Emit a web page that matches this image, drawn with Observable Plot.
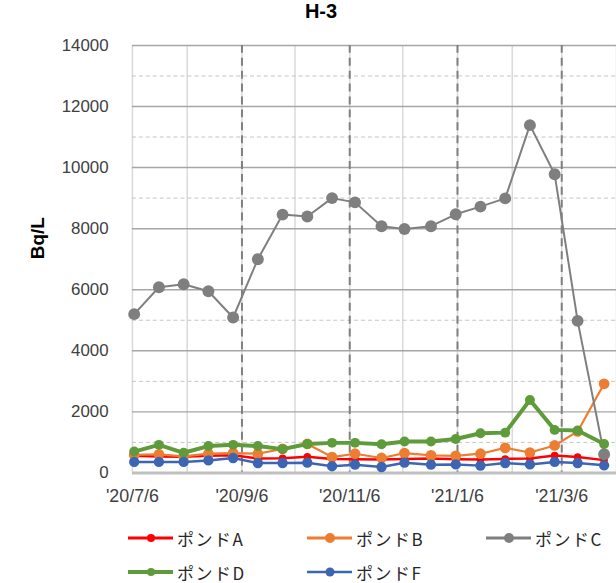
<!DOCTYPE html>
<html><head><meta charset="utf-8">
<script src="https://cdn.jsdelivr.net/npm/d3@7"></script>
<script src="https://cdn.jsdelivr.net/npm/@observablehq/plot@0.6"></script>
<style>
html,body{margin:0;padding:0;background:#fff;overflow:hidden;}
#title{width:616px;height:36px;line-height:40px;font:bold 20px "Liberation Sans",Arial,sans-serif;text-align:center;box-sizing:border-box;padding-left:26px;color:#000;}
#chart{height:480px;}
#legend{display:grid;grid-template-columns:179px 179px 179px;padding-left:128px;padding-top:5px;font:17px "Noto Sans CJK JP",sans-serif;letter-spacing:1.5px;color:#262626;}
.item{display:flex;align-items:center;height:34px;}
.item svg{margin-right:4px;}
</style></head><body>
<div id="title">H-3</div>
<div id="chart"></div>
<div id="legend"></div>
<script>
// Sampling dates
const dates = ["2020-07-07","2020-07-21","2020-08-04","2020-08-18","2020-09-01","2020-09-15","2020-09-29","2020-10-13","2020-10-27","2020-11-09",
               "2020-11-24","2020-12-07","2020-12-22","2021-01-05","2021-01-19","2021-02-02","2021-02-16","2021-03-02","2021-03-15","2021-03-30"];
// Series values (Bq/L)
const seriesNames = ["ポンドA","ポンドB","ポンドC","ポンドD","ポンドF"];
const pondA = [560, 540, 530, 560, 580, 470, 480, 530, 460, 450, 440, 460, 470, 450, 440, 460, 470, 570, 520, 420];
const pondB = [590, 610, 540, 630, 650, 630, 790, 950, 520, 630, 490, 650, 575, 560, 630, 820, 670, 900, 1360, 2920];
const pondC = [5200, 6080, 6180, 5950, 5090, 7000, 8460, 8400, 9000, 8860, 8080, 7990, 8080, 8470, 8720, 8990, 11390, 9780, 4980, 610];
const pondD = [700, 920, 660, 880, 920, 880, 780, 950, 985, 985, 940, 1030, 1030, 1110, 1300, 1320, 2390, 1410, 1390, 950];
const pondF = [360, 360, 360, 410, 490, 325, 325, 335, 220, 270, 195, 335, 270, 280, 240, 325, 280, 360, 325, 250];
const seriesValues = [pondA, pondB, pondC, pondD, pondF];
// Axis ticks
const tickDates = ["2020-07-06","2020-09-06","2020-11-06","2021-01-06","2021-03-06"];
const tickLabels = ["'20/7/6","'20/9/6","'20/11/6","'21/1/6","'21/3/6"];
const yTicks = [0,2000,4000,6000,8000,10000,12000,14000];
const yMinor = [1000,3000,5000,9000,11000,13000];
const yLabel = "Bq/L";

// styles (separate from data)
const styles = {
  "ポンドA": {color:"#ff0000", sw:2.5, r:3.8, lsw:3, lr:4},
  "ポンドB": {color:"#ed7d31", sw:2.2, r:5.4, lsw:3, lr:5},
  "ポンドC": {color:"#7f7f7f", sw:2, r:6, lsw:3, lr:5},
  "ポンドD": {color:"#5e9b3a", sw:4, r:5, lsw:4, lr:4},
  "ポンドF": {color:"#3c66b4", sw:2.5, r:5.2, lsw:2.5, lr:4.5}
};

const parse = d3.utcParse("%Y-%m-%d");
const rows = [];
seriesNames.forEach((s,i) => seriesValues[i].forEach((v,j) => rows.push({series:s, date:parse(dates[j]), value:v})));
const tickD = tickDates.map(parse);
const labelOf = new Map(tickD.map((d,i)=>[+d, tickLabels[i]]));
const monthLines = d3.utcMonth.range(new Date(Date.UTC(2020,6,1)), new Date(Date.UTC(2021,4,1))).map(d => d3.utcDay.offset(d,5));

const marks = [
  Plot.ruleX(monthLines, {stroke:"#d9d9d9", strokeWidth:1.5}),
  Plot.ruleY(yMinor, {stroke:"#c4c4c4", strokeWidth:1, strokeDasharray:"4,3"}),
  Plot.ruleY(yTicks.filter(v=>v>0), {stroke:"#a6a6a6", strokeWidth:1.5}),
  Plot.ruleX(tickD.slice(1), {stroke:"#7f7f7f", strokeWidth:2, strokeDasharray:"8,5"}),
  Plot.ruleY([0], {stroke:"#bfbfbf", strokeWidth:3}),
  Plot.axisY({ticks:yTicks, tickSize:0, tickPadding:24, tickFormat:d=>String(d), fontSize:17, fill:"#404040", label:null}),
  Plot.axisX({ticks:tickD, tickSize:0, tickPadding:17, tickFormat:d=>labelOf.get(+d), fontSize:18, fill:"#404040", label:null, style:"letter-spacing:1.5px"}),
  Plot.text([yLabel], {text:d=>d, frameAnchor:"left", rotate:-90, dx:-95, fontSize:19, fontWeight:"bold", fill:"#000"})
];
for (const s of seriesNames) {
  const st = styles[s];
  const data = rows.filter(r => r.series === s);
  marks.push(Plot.line(data, {x:"date", y:"value", stroke:st.color, strokeWidth:st.sw}));
  marks.push(Plot.dot(data, {x:"date", y:"value", r:st.r, fill:st.color, stroke:"none"}));
}

const chart = Plot.plot({
  width:621, height:480,
  marginLeft:133, marginRight:0, marginTop:9, marginBottom:40,
  style:{fontFamily:"'Liberation Sans', Arial, sans-serif", background:"#fff", overflow:"visible"},
  x:{type:"utc", domain:[parse("2020-07-06"), parse("2021-04-06")]},
  y:{domain:[0,14000]},
  marks
});
document.getElementById("chart").appendChild(chart);

const legend = document.getElementById("legend");
for (const s of seriesNames) {
  const st = styles[s];
  const div = document.createElement("div");
  div.className = "item";
  div.innerHTML = `<svg width="45" height="14"><line x1="0" x2="45" y1="7" y2="7" stroke="${st.color}" stroke-width="${st.lsw}"/><circle cx="23" cy="7" r="${st.lr}" fill="${st.color}"/></svg><span>${s}</span>`;
  legend.appendChild(div);
}
</script>
</body></html>
